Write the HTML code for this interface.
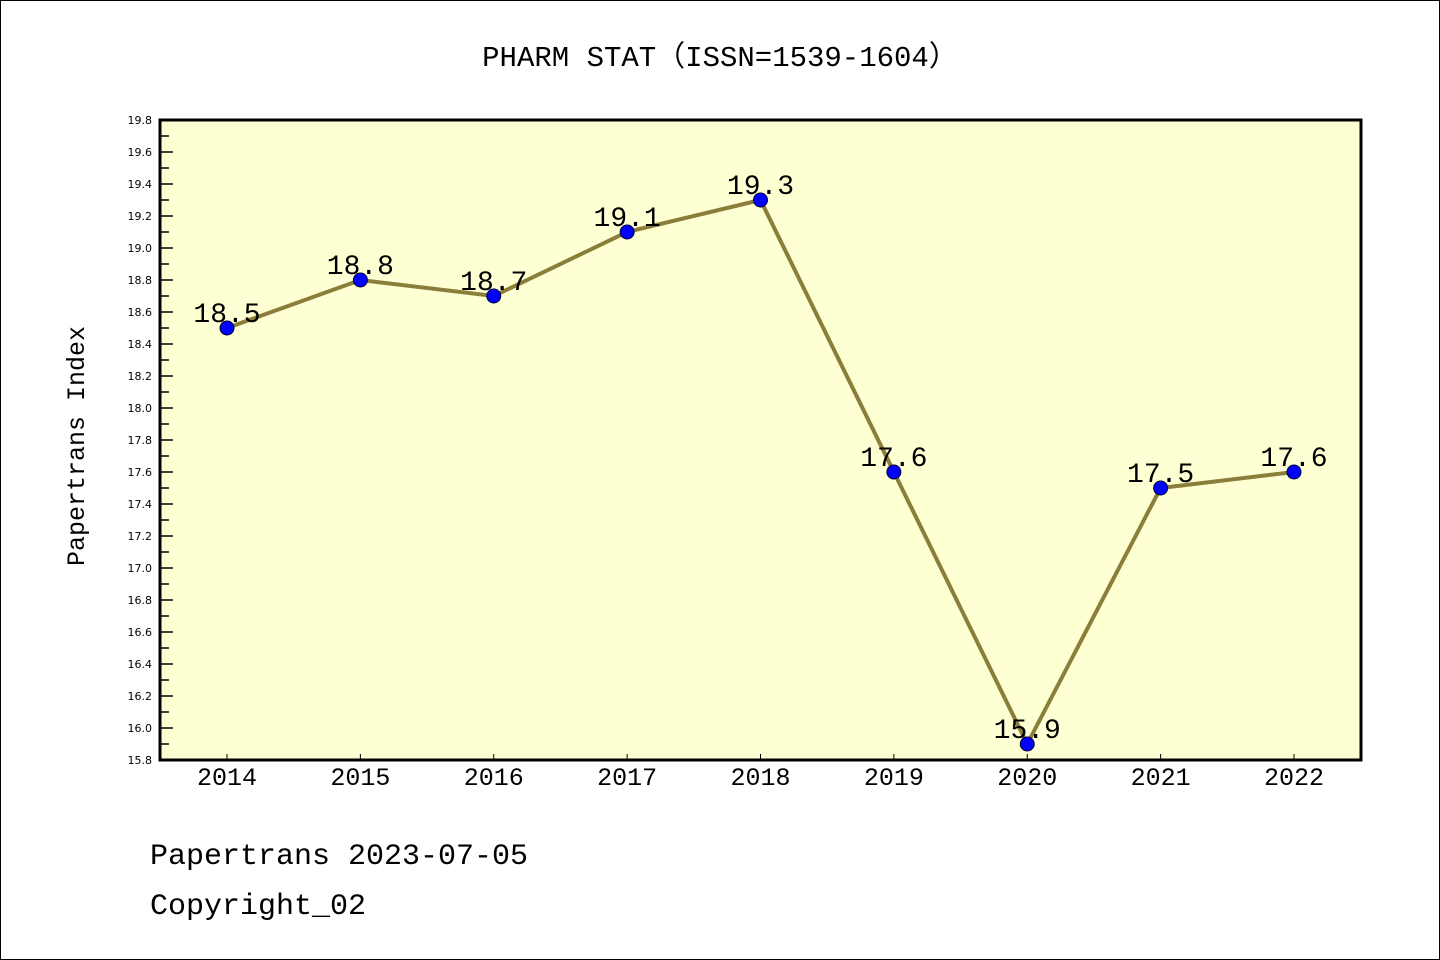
<!DOCTYPE html>
<html><head><meta charset="utf-8"><style>
html,body{margin:0;padding:0;background:#fff}
svg{display:block}
text{font-family:"Liberation Mono","Noto Sans CJK SC",monospace}
</style></head><body>
<svg id="chart" width="1440" height="960" xmlns="http://www.w3.org/2000/svg">
<rect x="0.5" y="0.5" width="1439" height="959" fill="#fff" stroke="#000" stroke-width="1"/>
<text x="720" y="66" font-size="29" text-anchor="middle">PHARM STAT（ISSN=1539-1604）</text>
<rect x="160" y="120" width="1201" height="640" fill="#ffffd4"/>
<g id="yticks"></g>
<g id="xticks"></g>
<g id="series"></g>
<rect x="160" y="120" width="1201" height="640" fill="none" stroke="#000" stroke-width="3"/>
<text transform="translate(84,446) rotate(-90)" font-size="25" text-anchor="middle">Papertrans Index</text>
<text x="150" y="864" font-size="30">Papertrans 2023-07-05</text>
<text x="150" y="914" font-size="30">Copyright_02</text>
</svg>
<script>
const categories=["2014","2015","2016","2017","2018","2019","2020","2021","2022"];
const values=[18.5,18.8,18.7,19.1,19.3,17.6,15.9,17.5,17.6];
const valueLabels=["18.5","18.8","18.7","19.1","19.3","17.6","15.9","17.5","17.6"];
const yTicks=[15.8,16.0,16.2,16.4,16.6,16.8,17.0,17.2,17.4,17.6,17.8,18.0,18.2,18.4,18.6,18.8,19.0,19.2,19.4,19.6,19.8];
(function(){
const NS="http://www.w3.org/2000/svg";
const yMin=15.8,yMax=19.8,plotTop=120,plotBot=760;
function y(v){return plotBot-(v-yMin)/(yMax-yMin)*(plotBot-plotTop);}
function x(i){return 227+i*(1294-227)/(categories.length-1);}
function mk(tag,attrs,parent){const e=document.createElementNS(NS,tag);for(const k in attrs)e.setAttribute(k,attrs[k]);parent.appendChild(e);return e;}
const yg=document.getElementById('yticks');
yTicks.forEach((t,i)=>{
  const ln=mk('line',{x1:160,x2:173,y1:y(t),y2:y(t),stroke:'#000','stroke-width':1.5},yg);
  
  
  const tx=mk('text',{x:152,y:y(t)+4,'font-size':11,'text-anchor':'end',style:'font-family:"DejaVu Sans",sans-serif'},yg);
  tx.textContent=t.toFixed(1);
  
  
  if(i<yTicks.length-1){
    const m=mk('line',{x1:160,x2:169,y1:y(t+0.1),y2:y(t+0.1),stroke:'#000','stroke-width':1.5},yg);
    
    
  }
});
const xg=document.getElementById('xticks');
categories.forEach((c,i)=>{
  const ln=mk('line',{x1:x(i),x2:x(i),y1:760,y2:754,stroke:'#000','stroke-width':1},xg);
  
  
  const tx=mk('text',{x:x(i),y:785,'font-size':25,'text-anchor':'middle'},xg);
  tx.textContent=c;
  
  
});
const sg=document.getElementById('series');
const pl=mk('polyline',{points:values.map((v,i)=>x(i)+','+y(v)).join(' '),fill:'none',stroke:'#8b7d3a','stroke-width':4},sg);


values.forEach((v,i)=>{
  const c=mk('circle',{cx:x(i),cy:y(v),r:7,fill:'#0000ff',stroke:'#000033','stroke-width':1},sg);
  
  
  const t=mk('text',{x:x(i),y:y(v)-6,'font-size':28,'text-anchor':'middle'},sg);
  t.textContent=valueLabels[i];
  
  
});
})();
</script>
</body></html>
